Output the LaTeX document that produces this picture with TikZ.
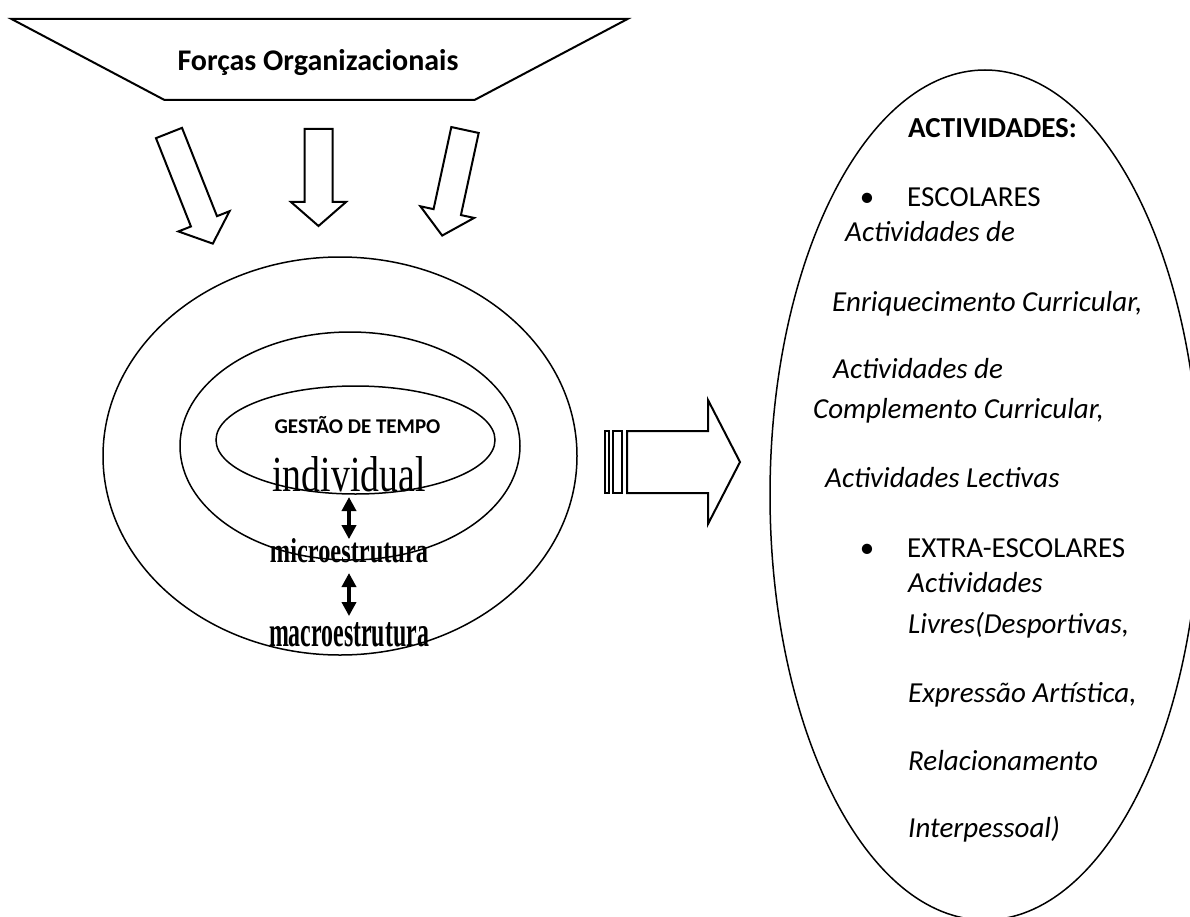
\documentclass[tikz,border=0pt]{standalone}
\usepackage{fontspec}
\setmainfont{Carlito}
\newfontfamily\wordfont{Liberation Serif}
\usetikzlibrary{shapes.geometric, arrows.meta, calc}

\tikzset{
  ring/.style={draw, ellipse, line width=1.5pt, inner sep=0pt},
  blockline/.style={line width=2pt, line join=miter},
  txt/.style={anchor=base west, inner sep=0pt, font=\fontsize{29}{35}\selectfont},
  wordart/.style={anchor=south, inner sep=0pt},
  updown/.style={{Triangle[width=14pt,length=14pt]}-{Triangle[width=14pt,length=14pt]}, line width=3.5pt},
}

% block arrow: position, angle, length
\newcommand{\blockarrow}[3]{%
  \begin{scope}[shift={#1}, rotate=#2]
    \draw[blockline] (0,-14) -- ({#3-24},-14) -- ({#3-24},-27.5) -- (#3,0)
      -- ({#3-24},27.5) -- ({#3-24},14) -- (0,14) -- cycle;
  \end{scope}}

\begin{document}
\begin{tikzpicture}[x=1pt, y=-1pt]
    \useasboundingbox (0,0) rectangle (1190,917);

    % Draw the top trapezoid
    \draw[line width=2pt] (11.5,19) -- (627.5,19) -- (474.5,100) -- (164.5,100) -- cycle;
    \node[anchor=base, inner sep=0pt, font=\bfseries\fontsize{30}{36}\selectfont] (forces) at (318,71) {Forças Organizacionais};

    % Draw the three arrows going down
    \blockarrow{(169,133)}{-68.4}{119}
    \blockarrow{(318.5,129)}{-90}{97}
    \blockarrow{(465,130)}{-102.2}{108}

    % Draw the rings
    \node[ring, minimum width=474pt, minimum height=398pt] (outer) at (340,456) {};
    \node[ring, minimum width=340pt, minimum height=228pt] (middle) at (350,446) {};
    \node[ring, minimum width=279pt, minimum height=108pt] (inner) at (355.5,440) {};

    % Labels in the rings
    \node[anchor=base, inner sep=0pt, font=\bfseries\fontsize{21}{25}\selectfont] (gestao) at (357.5,433) {GESTÃO DE TEMPO};
    \node[wordart] (indiv) at (349,492) {\resizebox{153pt}{35pt}{\wordfont individual}};
    \node[wordart] (micro) at (349,563) {\resizebox{158pt}{24pt}{\wordfont\bfseries microestrutura}};
    \node[wordart] (macro) at (349,647) {\resizebox{160pt}{24pt}{\wordfont\bfseries macroestrutura}};

    \draw[updown] ([yshift=-5pt]indiv.south) -- ([yshift=-1pt]micro.north);
    \draw[updown] ([yshift=-10pt]micro.south) -- ([yshift=6pt]macro.north);

    % Draw the big arrow to the right
    \draw[line width=1.5pt] (605,431) rectangle (609,493);
    \draw[line width=1.5pt] (613,431) rectangle (622,493);
    \draw[blockline] (627,431) -- (708,431) -- (708,400) -- (740,462) -- (708,524) -- (708,493) -- (627,493) -- cycle;

    % Draw the activities ellipse
    \node[ring, minimum width=430pt, minimum height=850pt] (acts) at (985,495) {};

    \node[txt, font=\bfseries\fontsize{29}{35}\selectfont] (head) at (908,138) {ACTIVIDADES:};
    \node[txt, anchor=base] (bulA) at (867,207) {•};
    \node[txt] (escolares) at (907,207) {ESCOLARES};
    \node[txt, font=\itshape\fontsize{29}{35}\selectfont] (eA) at (845,242) {Actividades de};
    \node[txt, font=\itshape\fontsize{29}{35}\selectfont] (eB) at (832,311) {Enriquecimento Curricular,};
    \node[txt, font=\itshape\fontsize{29}{35}\selectfont] (eC) at (833,378) {Actividades de};
    \node[txt, font=\itshape\fontsize{29}{35}\selectfont] (eD) at (813,418) {Complemento Curricular,};
    \node[txt, font=\itshape\fontsize{29}{35}\selectfont] (eE) at (825,487) {Actividades Lectivas};

    \node[txt, anchor=base] (bulB) at (867,557) {•};
    \node[txt] (extra) at (907,557) {EXTRA-ESCOLARES};
    \node[txt, font=\itshape\fontsize{29}{35}\selectfont] (xA) at (908,592) {Actividades};
    \node[txt, font=\itshape\fontsize{29}{35}\selectfont] (xB) at (908,633) {Livres(Desportivas,};
    \node[txt, font=\itshape\fontsize{29}{35}\selectfont] (xC) at (908,702) {Expressão Artística,};
    \node[txt, font=\itshape\fontsize{29}{35}\selectfont] (xD) at (908,770) {Relacionamento};
    \node[txt, font=\itshape\fontsize{29}{35}\selectfont] (xE) at (908,837) {Interpessoal)};
\end{tikzpicture}
\end{document}
